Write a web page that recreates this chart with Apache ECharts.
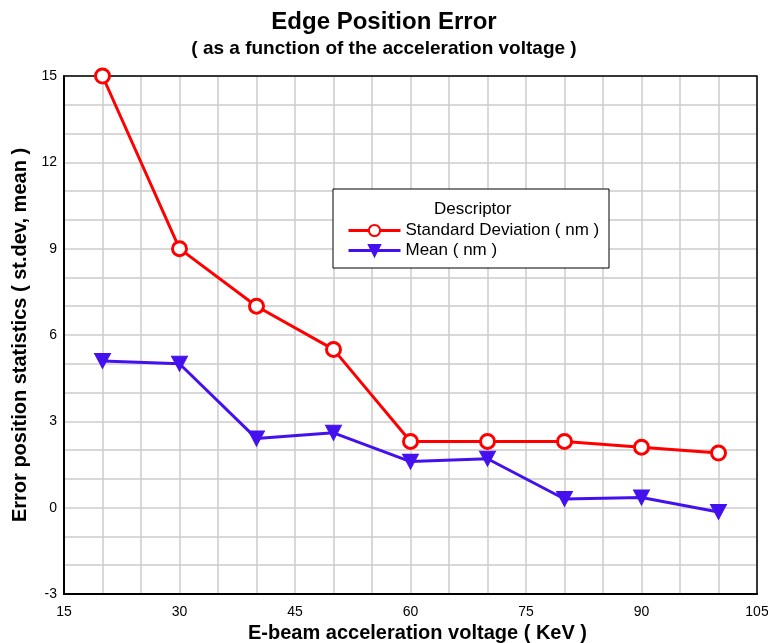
<!DOCTYPE html>
<html>
<head><meta charset="utf-8"></head>
<script type="text/javascript" src="https://cdn.jsdelivr.net/npm/echarts@6/dist/echarts.min.js"></script>
<body style="margin:0;background-color:white;">
    <div id="main" style="width:768px;height:643px;"></div>
</body>
<script>
var voltage = [20, 30, 40, 50, 60, 70, 80, 90, 100]
var stdDev = [15, 9, 7, 5.5, 2.3, 2.3, 2.3, 2.1, 1.9]
var meanVal = [5.1, 5.0, 2.4, 2.6, 1.6, 1.7, 0.3, 0.35, -0.15]

var pairs = function(ys){ return voltage.map(function(x, i){ return [x, ys[i]] }) }
var font = 'Liberation Sans, Arial, sans-serif'
var tri = 'path://M0,0 L10,0 L5,9 Z'

var myChart = echarts.init(document.getElementById('main'))

var option = {
    animation: false,
    textStyle: {fontFamily: font},
    title: {
        text: 'Edge Position Error',
        subtext: '( as a function of the acceleration voltage )',
        left: 'center', top: 5, itemGap: 5,
        textStyle: {fontSize: 24, fontWeight: 'bold', color: '#000', fontFamily: font},
        subtextStyle: {fontSize: 19, fontWeight: 'bold', color: '#000', fontFamily: font}
    },
    grid: {left: 64, right: 11, top: 76, bottom: 49, outerBoundsMode: 'none'},
    xAxis: {
        type: 'value', min: 15, max: 105, interval: 15,
        name: 'E-beam acceleration voltage ( KeV )', nameLocation: 'middle', nameGap: 27,
        nameTextStyle: {fontSize: 20, fontWeight: 'bold', color: '#000', padding: [0, 0, 0, 14]},
        axisLine: {onZero: false, lineStyle: {color: '#000', width: 2}},
        axisTick: {show: false},
        axisLabel: {color: '#000', fontSize: 14, margin: 11},
        splitLine: {show: true, lineStyle: {color: '#cccccc', width: 1.5}},
        minorTick: {show: false, splitNumber: 3},
        minorSplitLine: {show: true, lineStyle: {color: '#cccccc', width: 1.5}}
    },
    yAxis: {
        type: 'value', min: -3, max: 15, interval: 3,
        name: 'Error position statistics ( st.dev, mean )', nameLocation: 'middle', nameGap: 34,
        nameTextStyle: {fontSize: 20, fontWeight: 'bold', color: '#000'},
        axisLine: {onZero: false, lineStyle: {color: '#000', width: 2}},
        axisTick: {show: false},
        axisLabel: {color: '#000', fontSize: 14, margin: 7},
        splitLine: {show: true, lineStyle: {color: '#cccccc', width: 1.5}},
        minorTick: {show: false, splitNumber: 3},
        minorSplitLine: {show: true, lineStyle: {color: '#cccccc', width: 1.5}}
    },
    legend: {
        orient: 'vertical', left: 342, top: 217, itemGap: 3,
        itemWidth: 52, itemHeight: 14,
        lineStyle: {width: 3},
        textStyle: {fontSize: 17, color: '#000', fontFamily: font},
        data: ['Standard Deviation ( nm )', 'Mean ( nm )']
    },
    graphic: [
        {type: 'rect', shape: {x: 64, y: 76, width: 693, height: 518}, silent: true,
         style: {fill: 'none', stroke: '#000', lineWidth: 1.5}, z: 1},
        {type: 'rect', shape: {x: 333, y: 189, width: 276, height: 79},
         style: {fill: '#fff', stroke: '#000', lineWidth: 1}, z: 2},
        {type: 'text', x: 434, y: 201, z: 3,
         style: {text: 'Descriptor', fontSize: 17, fill: '#000', fontFamily: font}}
    ],
    series: [
        {
            name: 'Standard Deviation ( nm )', type: 'line', data: pairs(stdDev),
            symbol: 'circle', symbolSize: 14, z: 5,
            lineStyle: {color: '#ff0000', width: 3},
            itemStyle: {color: '#fff', borderColor: '#ff0000', borderWidth: 3}
        },
        {
            name: 'Mean ( nm )', type: 'line', data: pairs(meanVal),
            symbol: tri, symbolSize: [16, 15], z: 5,
            lineStyle: {color: '#4411ee', width: 3},
            itemStyle: {color: '#4411ee', borderColor: '#4411ee', borderWidth: 1}
        }
    ]
}

option && myChart.setOption(option)
</script>
</html>
